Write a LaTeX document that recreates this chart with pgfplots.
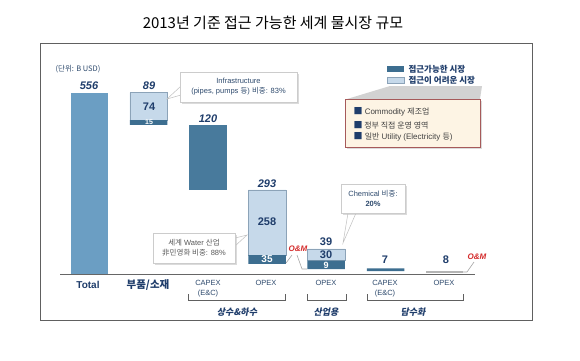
\documentclass[border=0pt]{standalone}
\usepackage{pgfplots}
\pgfplotsset{compat=1.18}
\usepackage{fontspec}
\setmainfont{Liberation Sans}
\newfontfamily\kr{Noto Sans CJK KR}
\newfontfamily\kri[FakeSlant=0.2]{Noto Sans CJK KR}
\usetikzlibrary{shadows}
\definecolor{totalblue}{HTML}{6B9EC3}
\definecolor{darkbar}{HTML}{3D6E90}
\definecolor{capexblue}{HTML}{487A9C}
\definecolor{lightbar}{HTML}{C6D9EA}
\definecolor{lightborder}{HTML}{8CA3B8}
\definecolor{graybar}{HTML}{B4B4B4}
\definecolor{navy}{HTML}{1F3D6B}
\definecolor{catcol}{HTML}{2F4B6E}
\definecolor{omred}{HTML}{D42A2A}
\definecolor{cream}{HTML}{FDF4E4}
\definecolor{boxred}{HTML}{A65A5A}
\begin{document}
\begin{tikzpicture}
\begin{scope}[x=1pt,y=-1pt]
\path[use as bounding box, fill=white] (0,0) rectangle (580,360);
\end{scope}
% bars
\begin{axis}[at={(40pt,-274pt)}, anchor=south west, scale only axis,
  width=492pt, height=181.3pt, xmin=40, xmax=532, ymin=0, ymax=556,
  axis lines=none, xtick=\empty, ytick=\empty, clip=false,
  ybar stacked, bar width=37.5]
\addplot[fill=none, draw=none] coordinates {(89.5,0) (148.5,457) (208,258) (267,31) (326,15) (385.5,9) (444.5,2)};
\addplot[fill=totalblue, draw=none] coordinates {(89.5,556) (148.5,0) (208,0) (267,0) (326,0) (385.5,0) (444.5,0)};
\addplot[fill=darkbar, draw=none] coordinates {(89.5,0) (148.5,15) (208,0) (267,27) (326,26) (385.5,8.5) (444.5,0)};
\addplot[fill=capexblue, draw=none] coordinates {(89.5,0) (148.5,0) (208,199) (267,0) (326,0) (385.5,0) (444.5,0)};
\addplot[fill=graybar, draw=none] coordinates {(89.5,0) (148.5,0) (208,0) (267,0) (326,0) (385.5,0) (444.5,7)};
\addplot[fill=lightbar, draw=lightborder, line width=0.5pt] coordinates {(89.5,0) (148.5,84) (208,0) (267,200) (326,36) (385.5,0) (444.5,0)};
\end{axis}
\begin{scope}[x=1pt,y=-1pt]
% title
\node[font=\kr\fontsize{15}{16}\selectfont] at (273,23) {2013년 기준 접근 가능한 세계 물시장 규모};
% frame
\draw[gray!75!black, line width=0.8pt] (40,43) rectangle (532,320);
% baseline
\draw[gray!80!black, line width=0.8pt] (60,274) -- (475,274);
% unit
\node[font=\kr\fontsize{7.5}{8}\selectfont, text=catcol] at (78,69) {(단위: B USD)};
% value labels
\node[font=\bfseries\itshape\fontsize{11}{12}\selectfont, text=navy] at (89,86) {556};
\node[font=\bfseries\itshape\fontsize{11}{12}\selectfont, text=navy] at (149,86) {89};
\node[font=\bfseries\fontsize{11}{12}\selectfont, text=navy] at (149,107) {74};
\node[font=\bfseries\fontsize{7}{8}\selectfont, text=white] at (149,122.5) {15};
\node[font=\bfseries\itshape\fontsize{11}{12}\selectfont, text=navy] at (208,119) {120};
\node[font=\bfseries\itshape\fontsize{11}{12}\selectfont, text=navy] at (267,184) {293};
\node[font=\bfseries\fontsize{11}{12}\selectfont, text=navy] at (267,222) {258};
\node[font=\bfseries\fontsize{10}{11}\selectfont, text=white] at (267,259.5) {35};
\node[font=\bfseries\fontsize{11}{12}\selectfont, text=navy] at (326,242) {39};
\node[font=\bfseries\fontsize{11}{12}\selectfont, text=navy] at (326,255) {30};
\node[font=\bfseries\fontsize{9}{10}\selectfont, text=white] at (326,265.5) {9};
\node[font=\bfseries\fontsize{11}{12}\selectfont, text=navy] at (385,260) {7};
\node[font=\bfseries\fontsize{11}{12}\selectfont, text=navy] at (446,260) {8};
% O&M labels and connectors
\node[font=\bfseries\itshape\fontsize{8}{9}\selectfont, text=omred] at (298,249) {O\&M};
\draw[gray!70, line width=0.6pt] (286,263) -- (292,255);
\draw[gray!70, line width=0.6pt] (297,255) -- (302,269) -- (307,269);
\node[font=\bfseries\itshape\fontsize{8}{9}\selectfont, text=omred] at (477,257) {O\&M};
\draw[gray!70, line width=0.6pt] (474,262) -- (467,272) -- (463,272);
% category labels
\node[font=\bfseries\fontsize{10}{11}\selectfont, text=navy] at (88,285) {Total};
\node[font=\kr\bfseries\fontsize{10.5}{11}\selectfont, text=navy] at (148,285) {부품/소재};
\node[font=\fontsize{7.5}{10.5}\selectfont, text=catcol, align=center] at (208,288.5) {CAPEX\\(E\&C)};
\node[font=\fontsize{7.5}{9}\selectfont, text=catcol] at (266,283) {OPEX};
\node[font=\fontsize{7.5}{9}\selectfont, text=catcol] at (326,283) {OPEX};
\node[font=\fontsize{7.5}{10.5}\selectfont, text=catcol, align=center] at (385,288.5) {CAPEX\\(E\&C)};
\node[font=\fontsize{7.5}{9}\selectfont, text=catcol] at (444,283) {OPEX};
% brackets
\draw[gray!75!black, line width=0.9pt] (188,294) -- (188,300) -- (285,300) -- (285,294);
\draw[gray!75!black, line width=0.9pt] (307,294) -- (307,300) -- (346,300) -- (346,294);
\draw[gray!75!black, line width=0.9pt] (367,294) -- (367,300) -- (463,300) -- (463,294);
\node[font=\kri\bfseries\fontsize{9}{10}\selectfont, text=navy] at (237,312) {상수\&하수};
\node[font=\kri\bfseries\fontsize{9}{10}\selectfont, text=navy] at (326,312) {산업용};
\node[font=\kri\bfseries\fontsize{9}{10}\selectfont, text=navy] at (413,312) {담수화};
% callout: Infrastructure
\fill[white] (167,99) -- (181,86) -- (181,95) -- cycle;
\draw[gray!50, line width=0.5pt] (181,86) -- (167,99) -- (181,95);
\draw[gray!40, fill=white, drop shadow={shadow xshift=2pt, shadow yshift=-2pt, fill=gray!55}] (180,72) rectangle (297,102);
\node[font=\fontsize{7.5}{10}\selectfont, text=catcol, align=center] at (238.5,87) {Infrastructure\\(pipes, pumps {\kr 등}) {\kr 비중}: 83\%};
% callout: water industry
\draw[gray!50, line width=0.5pt] (235,238) -- (247,235) -- (235,246);
\draw[gray!40, fill=white, drop shadow={shadow xshift=2pt, shadow yshift=-2pt, fill=gray!55}] (153,233) rectangle (235,263);
\node[font=\fontsize{7.5}{10}\selectfont, text=black!65, align=center] at (194,248) {{\kr 세계} Water {\kr 산업}\\{\kr 非민영화 비중}: 88\%};
% callout: chemical
\draw[gray!50, line width=0.5pt] (348,213) -- (343,243) -- (356,213);
\draw[gray!40, fill=white, drop shadow={shadow xshift=2pt, shadow yshift=-2pt, fill=gray!55}] (341,184) rectangle (405,213);
\node[font=\fontsize{7.5}{10}\selectfont, text=catcol, align=center] at (373,198.5) {Chemical {\kr 비중}:\\\textbf{20\%}};
% legend
\fill[darkbar] (387,66) rectangle (404,72);
\node[font=\kr\bfseries\fontsize{8.5}{9}\selectfont, text=navy, anchor=west] at (405,69) {접근가능한 시장};
\draw[lightborder, fill=lightbar, line width=0.4pt] (387,77) rectangle (404,83);
\node[font=\kr\bfseries\fontsize{8.5}{9}\selectfont, text=navy, anchor=west] at (405,80) {접근이 어려운 시장};
\fill[gray!35] (347,99) -- (390,86) -- (482,86) -- (480,99) -- cycle;
\draw[boxred, fill=cream, line width=0.7pt, drop shadow={shadow xshift=2pt, shadow yshift=-2pt, fill=gray!55}] (345,99) rectangle (480,147);
\node[font=\fontsize{8}{9}\selectfont, text=black!75, anchor=west] at (350,112) {\textcolor{navy}{\small\kr ■} Commodity {\kr 제조업}};
\node[font=\kr\fontsize{8}{9}\selectfont, text=black!75, anchor=west] at (350,125) {\textcolor{navy}{\small ■} 정부 직접 운영 영역};
\node[font=\fontsize{8}{9}\selectfont, text=black!75, anchor=west] at (350,137) {\textcolor{navy}{\small\kr ■} {\kr 일반} Utility (Electricity {\kr 등})};
\end{scope}
\end{tikzpicture}
\end{document}
